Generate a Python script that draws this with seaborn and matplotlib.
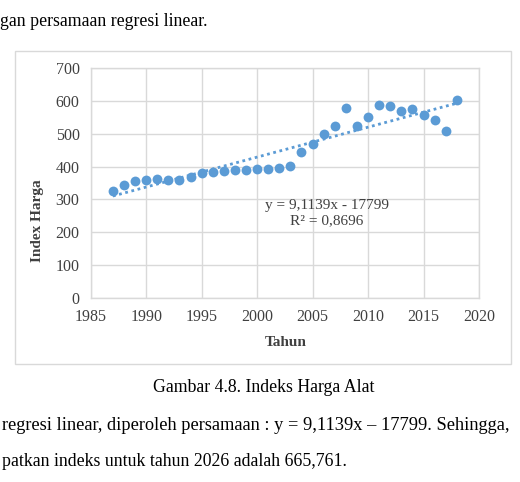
import matplotlib
matplotlib.use("Agg")
import matplotlib.pyplot as plt
import seaborn as sns
import numpy as np
import pandas as pd
from matplotlib.patches import Rectangle

years = list(range(1987, 2019))
index_harga = [325, 343, 356, 358, 361, 358, 359, 367, 380, 382, 388, 390, 390, 394, 394, 395,
               403, 444, 469, 499, 525, 577, 522, 552, 586, 585, 569, 576, 557, 543, 507, 603]
slope = 9.1139
intercept = -17799
eq_text = "y = 9,1139x - 17799"
r2_text = "R² = 0,8696"
x_ticks = [1985, 1990, 1995, 2000, 2005, 2010, 2015, 2020]
y_ticks = [0, 100, 200, 300, 400, 500, 600, 700]
top_text = "gan persamaan regresi linear."
caption = "Gambar 4.8. Indeks Harga Alat"
bottom_line1 = "regresi linear, diperoleh persamaan : y = 9,1139x \u2013 17799. Sehingga,"
bottom_line2 = "patkan indeks untuk tahun 2026 adalah 665,761."

sns.set_style("white")
plt.rcParams['font.family'] = ['Liberation Serif', 'DejaVu Serif']

df = pd.DataFrame({"Tahun": years, "Index": index_harga})
trend = pd.DataFrame({"Tahun": [years[0], years[-1]]})
trend["y"] = slope * trend["Tahun"] + intercept

W, H = 520, 482
fig = plt.figure(figsize=(W / 100, H / 100), dpi=100)
fig.patch.set_facecolor("white")

# chart area border
fig.patches.append(Rectangle((15 / W, 1 - 364 / H), 496 / W, 313 / H, transform=fig.transFigure,
                             fill=False, edgecolor="#D9D9D9", linewidth=1.0))

ax = fig.add_axes([90.7 / W, 1 - 298 / H, 388.3 / W, 230 / H])
blue = "#5B9BD5"
sns.lineplot(data=trend, x="Tahun", y="y", ax=ax, color=blue, linestyle=(0, (1, 1.3)),
             linewidth=2.0, zorder=2)
sns.scatterplot(data=df, x="Tahun", y="Index", ax=ax, color=blue, s=50, edgecolor=blue,
                linewidth=0, zorder=3)

ax.set_xlim(1985, 2020)
ax.set_ylim(0, 700)
ax.set_xticks(x_ticks)
ax.set_yticks(y_ticks)
ax.grid(True, color="#D9D9D9", linewidth=1.0)
ax.set_axisbelow(True)
for sp in ax.spines.values():
    sp.set_color("#D9D9D9")
    sp.set_linewidth(1.0)
ax.tick_params(axis="both", length=0, labelsize=11.5, colors="#404040", pad=8)
ax.set_xlabel("")
ax.set_ylabel("")

fig.text(285.5 / W, 1 - 343 / H, "Tahun", ha="center", va="center", fontsize=11,
         fontweight="bold", color="#404040")
fig.text(37 / W, 1 - 221 / H, "Index Harga", ha="center", va="center", rotation=90,
         fontsize=11, fontweight="bold", color="#404040")
fig.text(327 / W, 1 - 205 / H, eq_text, ha="center", va="center", fontsize=11, color="#404040")
fig.text(327 / W, 1 - 221 / H, r2_text, ha="center", va="center", fontsize=11, color="#404040")

fig.text(0 / W, 1 - 22 / H, top_text, ha="left", va="center", fontsize=12.8, color="black")
fig.text(264 / W, 1 - 388 / H, caption, ha="center", va="center", fontsize=12.8, color="black")
fig.text(2 / W, 1 - 425 / H, bottom_line1, ha="left", va="center", fontsize=13.2, color="black")
fig.text(2 / W, 1 - 461 / H, bottom_line2, ha="left", va="center", fontsize=12.8, color="black")

fig.savefig("out.png", dpi=100, facecolor="white")
